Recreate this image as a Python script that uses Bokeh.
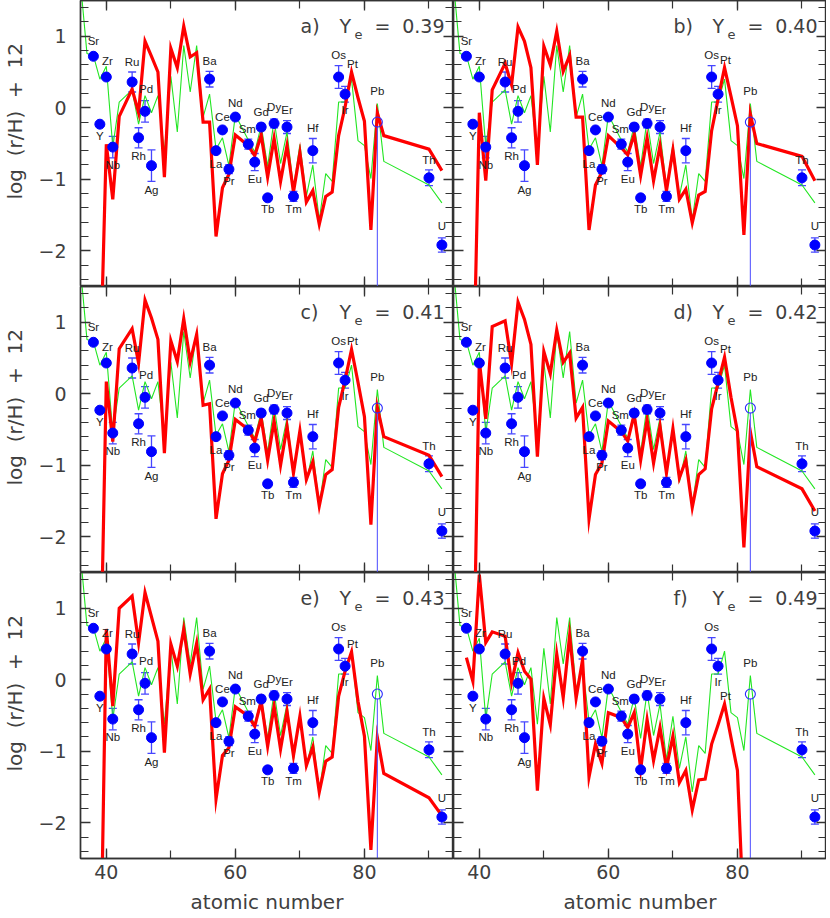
from bokeh.plotting import figure
from bokeh.layouts import gridplot
from bokeh.models import (ColumnDataSource, LinearAxis, SingleIntervalTicker, Range1d,
                          Whisker, TeeHead)
from bokeh.embed import file_html
from bokeh.resources import INLINE
from bokeh.core.properties import value

# ---------------- data ----------------
elements = ["Sr", "Y", "Zr", "Nb", "Ru", "Rh", "Pd", "Ag", "Ba", "La", "Ce", "Pr", "Nd",
            "Sm", "Eu", "Gd", "Tb", "Dy", "Er", "Tm", "Hf", "Os", "Ir", "Th", "U"]
z_obs = [38, 39, 40, 41, 44, 45, 46, 47, 56, 57, 58, 59, 60,
         62, 63, 64, 65, 66, 68, 69, 72, 76, 77, 90, 92]
obs = [0.72, -0.23, 0.43, -0.55, 0.36, -0.42, -0.05, -0.81, 0.40, -0.60, -0.31, -0.86, -0.13,
       -0.51, -0.76, -0.27, -1.26, -0.22, -0.27, -1.24, -0.60, 0.43, 0.19, -0.98, -1.92]
obs_err = [0.0, 0.0, 0.0, 0.15, 0.14, 0.14, 0.15, 0.22, 0.11, 0.0, 0.0, 0.06, 0.0,
           0.07, 0.12, 0.05, 0.0, 0.06, 0.09, 0.07, 0.17, 0.16, 0.11, 0.11, 0.10]

pb_name = "Pb"
pb_z = 82
pb_val = -0.20

z_solar = [36, 37, 38, 39, 40, 41, 42, 44, 45, 46, 47, 48, 49, 50, 51, 52, 53, 54, 55, 56,
           57, 58, 59, 60, 62, 63, 64, 65, 66, 67, 68, 69, 70, 71, 72, 73, 74, 75, 76, 77,
           78, 79, 80, 81, 82, 83, 90, 92]
solar = [1.75, 0.76, 0.73, 0.40, 0.58, -0.55, 0.08, 0.25, -0.23, 0.17, -0.07, 0.17, -0.62,
         0.44, -0.34, 0.87, 0.22, 0.87, -0.13, 0.19,
         -0.58, -0.42, -0.81, -0.10, -0.45, -0.62, -0.25, -0.82, -0.17, -0.78, -0.34, -1.12,
         -0.51, -1.24, -0.80, -1.57, -0.92, -1.03, 0.08, 0.08,
         0.40, -0.46, -0.53, -0.99, 0.06, -0.75, -1.08, -1.33]

z_model = [39, 40, 41, 42, 44, 45, 46, 47, 48, 49, 50, 51, 52, 53, 54, 55, 56, 57, 58, 59,
           60, 62, 63, 64, 65, 66, 67, 68, 69, 70, 71, 72, 73, 74, 75, 76, 77, 78, 79, 80,
           81, 82, 83, 90, 92]
model_a = [-3.9, -0.51, -1.28, -0.12, 0.26, -0.07, 0.93, 0.72, 0.50, -0.97, 0.83, 0.56, 1.14,
           0.71, 0.77, -0.20, -0.20, -1.80, -1.12, -0.93, -0.38, -0.53, -0.67, -0.38, -0.97,
           -0.43, -1.03, -0.53, -1.18, -0.63, -1.32, -1.16, -1.63, -1.24, -1.18, -0.39, 0.01,
           0.50, 0.14, -0.19, -1.71, -0.07, -0.39, -0.58, -0.88]
model_b = [-4.2, -0.07, -1.02, 0.25, 0.62, 0.32, 1.13, 0.93, 0.56, -0.80, 0.86, 0.60, 1.07,
           0.51, 0.73, -0.13, -0.13, -1.71, -1.08, -0.90, -0.39, -0.56, -0.66, -0.37, -0.95,
           -0.42, -1.02, -0.53, -1.16, -0.59, -1.28, -1.14, -1.61, -1.22, -1.17, -0.32, 0.12,
           0.56, 0.16, -0.25, -1.78, -0.09, -0.50, -0.68, -1.02]
model_c = [-4.35, 0.17, -0.67, 0.63, 0.91, 0.43, 1.31, 1.06, 0.76, -0.83, 0.74, 0.45, 1.05,
           0.45, 0.83, -0.16, -0.14, -1.75, -1.12, -0.93, -0.36, -0.50, -0.67, -0.34, -0.93,
           -0.38, -1.00, -0.46, -1.11, -0.52, -1.20, -0.95, -1.57, -1.13, -1.06, -0.19, 0.19,
           0.62, 0.16, -0.32, -1.83, -0.19, -0.60, -0.86, -1.16]
model_d = [-4.55, 0.46, -0.35, 0.94, 1.02, 0.42, 1.28, 1.04, 0.69, -0.88, 0.59, 0.28, 0.89,
           0.44, 0.57, -0.34, -0.19, -1.75, -1.13, -0.97, -0.38, -0.53, -0.66, -0.29, -0.93,
           -0.36, -0.97, -0.45, -1.11, -0.49, -1.18, -0.93, -1.59, -1.13, -1.05, -0.21, 0.15,
           0.51, -0.05, -0.53, -2.15, -0.53, -1.02, -1.33, -1.64]
model_e = [-4.7, 0.71, -0.37, 1.00, 1.17, 0.52, 1.22, 0.88, 0.54, -1.02, 0.50, 0.19, 0.71,
           0.08, 0.51, -0.28, -0.13, -1.67, -1.06, -0.95, -0.38, -0.51, -0.65, -0.30, -0.93,
           -0.37, -0.97, -0.44, -1.06, -0.51, -1.20, -0.94, -1.57, -1.14, -1.08, -0.23, 0.12,
           0.39, -0.30, -0.79, -2.38, -0.81, -1.31, -1.65, -1.90]
z_model_f = [38, 39, 40, 41, 42, 44, 45, 46, 47, 48, 49, 50, 51, 52, 53, 54, 55, 56, 57, 58,
             59, 60, 62, 63, 64, 65, 66, 67, 68, 69, 70, 71, 72, 73, 74, 75, 76, 77, 78, 79,
             80, 81]
model_f = [0.31, -0.02, 1.47, 0.52, 0.67, 0.61, -0.04, 0.38, 0.12, 0.01, -1.55, -0.26, -0.63,
           0.36, -0.25, 0.62, -0.26, 0.28, -1.36, -0.90, -1.17, -0.46, -0.53, -0.67, -0.46,
           -1.25, -0.56, -1.13, -0.67, -1.23, -0.79, -1.44, -1.27, -1.82, -1.40, -1.39, -0.90,
           -0.63, -0.34, -0.81, -1.27, -3.40]

panel_letters = ["a)", "b)", "c)", "d)", "e)", "f)"]
ye_values = ["0.39", "0.40", "0.41", "0.42", "0.43", "0.49"]
model_z = [z_model, z_model, z_model, z_model, z_model, z_model_f]
model_v = [model_a, model_b, model_c, model_d, model_e, model_f]

x_limits = (36.0, 93.8)
y_limits = (-2.5, 1.5)

# ---------------- styling (positions in screen pixels) ----------------
label_dx = {"Sr": 0, "Y": 0, "Zr": 1, "Nb": 0, "Ru": 0, "Rh": 0, "Pd": 1, "Ag": 0, "Ba": 0,
            "La": 0, "Ce": 0, "Pr": 0, "Nd": 0, "Sm": -1, "Eu": 0, "Gd": 0, "Tb": 0, "Dy": 0,
            "Er": 0, "Tm": 0, "Hf": 0, "Os": 0, "Ir": 0, "Th": 0, "U": 0}
label_dy = {"Sr": -15, "Y": 12, "Zr": -16, "Nb": 18, "Ru": -20, "Rh": 18, "Pd": -22, "Ag": 24,
            "Ba": -18, "La": 13, "Ce": -13, "Pr": 12, "Nd": -14, "Sm": -15, "Eu": 17,
            "Gd": -15, "Tb": 11, "Dy": -16, "Er": -17, "Tm": 13, "Hf": -23, "Os": -22,
            "Ir": 16, "Th": -18, "U": -19}

AX = "#333333"
TXT = "#404040"
FONT = "DejaVu Sans"
LFONT = "Liberation Sans"
BLUE = "#0000ff"
EBLUE = "#4646ff"
RED = "#ff0000"
GREEN = "#22e622"
FW, FH = 373, 286


def add_axis(p, side, show_labels):
    if side in ("below", "above"):
        ticker = SingleIntervalTicker(interval=20, num_minor_ticks=2)
    else:
        ticker = SingleIntervalTicker(interval=1, num_minor_ticks=5)
    ax = LinearAxis(ticker=ticker, major_tick_in=10, major_tick_out=0,
                    minor_tick_in=8, minor_tick_out=0,
                    axis_line_color=AX, axis_line_width=1.4,
                    major_tick_line_color=AX, major_tick_line_width=1.3,
                    minor_tick_line_color=AX, minor_tick_line_width=1.2)
    if show_labels:
        ax.major_label_text_font = FONT
        ax.major_label_text_font_size = "19px"
        ax.major_label_text_color = TXT
        ax.axis_label_text_font = FONT
        ax.axis_label_text_font_size = "20px"
        ax.axis_label_text_font_style = "normal"
        ax.axis_label_text_color = TXT
        if side == "left":
            ax.major_label_overrides = {-2: "\u22122", -1: "\u22121", 0: "0", 1: "1"}
            ax.major_label_standoff = 14
            ax.axis_label = ("\u00a0" * 7) + "log\u00a0\u00a0(r/H)\u00a0\u00a0+\u00a0\u00a012"
            ax.axis_label_standoff = 8
        else:
            ax.major_label_standoff = 6
            ax.axis_label = "atomic\u00a0number"
            ax.axis_label_standoff = 8
    else:
        # inner ticks only: labels are not drawn at all
        ax.major_label_text_alpha = 0
        ax.major_label_text_font_size = "1px"
        ax.major_label_standoff = 0
        ax.axis_label_standoff = 0
    p.add_layout(ax, side)


obs_src = ColumnDataSource(dict(z=z_obs, v=obs))
err_idx = [i for i, e in enumerate(obs_err) if e > 0]
err_src = ColumnDataSource(dict(
    base=[z_obs[i] for i in err_idx],
    upper=[obs[i] + obs_err[i] for i in err_idx],
    lower=[obs[i] - obs_err[i] for i in err_idx]))
lab_src = ColumnDataSource(dict(
    z=z_obs + [pb_z], v=obs + [pb_val], t=elements + [pb_name],
    dx=[label_dx[e] for e in elements] + [0],
    dy=[label_dy[e] for e in elements] + [-31]))

figs = []
for k in range(6):
    row, col = divmod(k, 2)
    left = col == 0
    bottom = row == 2
    p = figure(frame_width=FW, frame_height=FH,
               x_range=Range1d(*x_limits), y_range=Range1d(*y_limits),
               x_axis_location=None, y_axis_location=None,
               output_backend="svg", toolbar_location=None,
               min_border_left=75 if left else 0, min_border_right=0,
               min_border_top=0, min_border_bottom=0,
               background_fill_color="white", border_fill_color="white")
    p.grid.visible = False
    p.outline_line_color = AX
    p.outline_line_width = 1.4

    add_axis(p, "left", left)
    add_axis(p, "right", False)
    add_axis(p, "above", False)
    add_axis(p, "below", bottom)

    p.line(z_solar, solar, line_color=GREEN, line_width=1.1)
    p.line(model_z[k], model_v[k], line_color=RED, line_width=3.2, line_join="miter")

    # Pb: open circle with a line down to the bottom of the panel
    p.segment(x0=[pb_z], y0=[pb_val - 0.065], x1=[pb_z], y1=[y_limits[0]],
              line_color="#5a5aff", line_width=1.1)
    p.scatter([pb_z], [pb_val], marker="circle", size=10, fill_alpha=0,
              line_color="#2a2aff", line_width=1.1)

    wh = Whisker(source=err_src, base="base", upper="upper", lower="lower",
                 line_color=EBLUE, line_width=1.3,
                 upper_head=TeeHead(size=8, line_color=EBLUE, line_width=1.3),
                 lower_head=TeeHead(size=8, line_color=EBLUE, line_width=1.3))
    p.add_layout(wh)

    p.scatter("z", "v", source=obs_src, marker="circle", size=10,
              fill_color=BLUE, line_color=BLUE)

    p.text("z", "v", text="t", source=lab_src, x_offset="dx", y_offset="dy",
           text_align="center", text_baseline="middle",
           text_font=value(LFONT), text_font_size="11.5px", text_color="#222222")

    # Pt label sits just above the model value at Pt (Z=78)
    zi = model_z[k].index(78)
    p.text([78], [model_v[k][zi]], text=["Pt"], x_offset=1, y_offset=-8,
           text_align="center", text_baseline="middle",
           text_font=value(LFONT), text_font_size="11.5px", text_color="#222222")

    # panel title  "a)  Y_e = 0.39"
    tx, ty = [x_limits[1]], [y_limits[1]]
    p.text(tx, ty, text=[panel_letters[k]], x_offset=-153, y_offset=25,
           text_align="left", text_baseline="middle",
           text_font=value(FONT), text_font_size="19px", text_color=TXT)
    p.text(tx, ty, text=["Y"], x_offset=-114, y_offset=25,
           text_align="left", text_baseline="middle",
           text_font=value(FONT), text_font_size="19px", text_color=TXT)
    p.text(tx, ty, text=["e"], x_offset=-99, y_offset=34,
           text_align="left", text_baseline="middle",
           text_font=value(FONT), text_font_size="13px", text_color=TXT)
    p.text(tx, ty, text=["="], x_offset=-79, y_offset=25,
           text_align="left", text_baseline="middle",
           text_font=value(FONT), text_font_size="19px", text_color=TXT)
    p.text(tx, ty, text=[ye_values[k]], x_offset=-9, y_offset=25,
           text_align="right", text_baseline="middle",
           text_font=value(FONT), text_font_size="19px", text_color=TXT)
    figs.append(p)

grid = gridplot([[figs[0], figs[1]], [figs[2], figs[3]], [figs[4], figs[5]]],
                toolbar_location=None)

open("out.html", "w").write(file_html(grid, INLINE))
